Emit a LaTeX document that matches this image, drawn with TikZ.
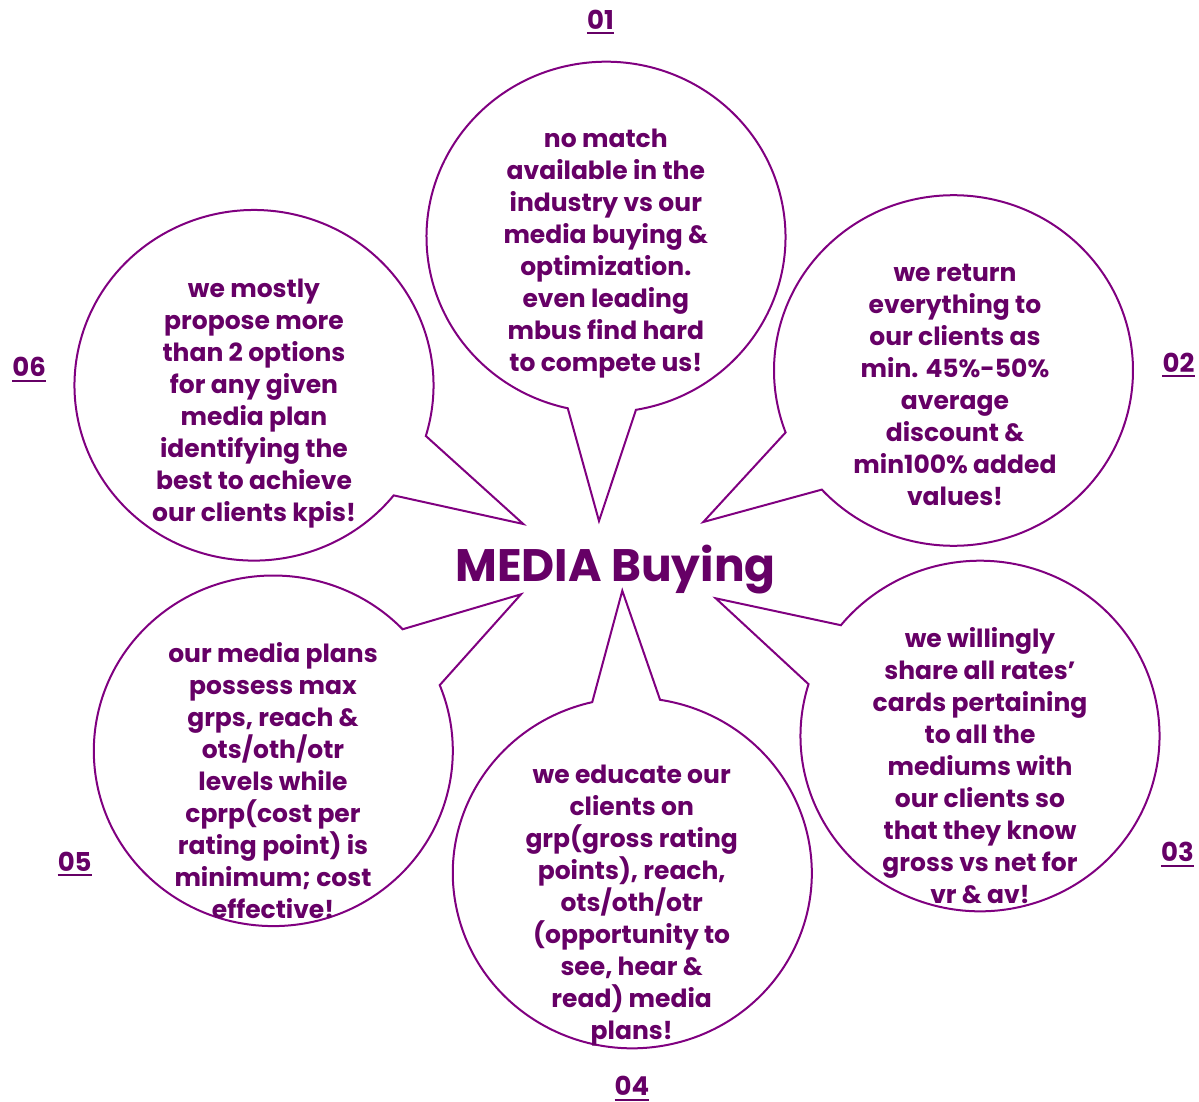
\documentclass[tikz,border=0pt]{standalone}
\usepackage{fontspec}
\setmainfont{Poppins}
\usetikzlibrary{calc}
\definecolor{txt}{RGB}{102,0,102}
\definecolor{lin}{RGB}{128,0,128}
\newcommand\bubblepath[7]{% cx cy tA tipx tipy tB endangle
  \draw[bub] ($(#1,#2)+(#3:179.5 and 175.3)$) -- (#4,#5) -- ($(#1,#2)+(#6:179.5 and 175.3)$)
    arc[start angle=#6, end angle=#7, x radius=179.5, y radius=175.3] -- cycle;}
\begin{document}
\begin{tikzpicture}[x=1pt,y=-1pt,
  bub/.style={draw=lin, line width=2pt, line join=miter, fill=white},
  body/.style={anchor=base, align=center, inner sep=0pt, text=txt, font=\bfseries\fontsize{25}{32}\selectfont},
  lbl/.style={anchor=base, inner sep=0pt, text=txt, font=\bfseries\fontsize{26}{30}\selectfont},
  ul/.style={draw=txt, line width=2pt}]
\useasboundingbox (0,0) rectangle (1199,1102);
% bubbles
\bubblepath{606}{237}{102.3}{599}{521}{80.4}{-257.7}
\bubblepath{953.5}{370.5}{159.3}{703.3}{522}{137.2}{-200.7}
\bubblepath{980}{736}{219.2}{715.7}{598.3}{197.2}{-140.8}
\bubblepath{632.3}{873}{278.9}{622.3}{590.7}{257.1}{-81.1}
\bubblepath{273.3}{750.8}{338.0}{521}{594.3}{316.1}{-22.0}
\bubblepath{254}{385.3}{38.9}{523.3}{524}{16.8}{-321.1}
% texts (anchor base = baseline of the last line)
\node[body] (t1) at (605.8,371.7) {no match\\available in the\\industry vs our\\media buying \&\\optimization.\\even leading\\mbus find hard\\to compete us!};
\node[body] (t2) at (955,505.7) {we return\\everything to\\our clients as\\min. 45\%-50\%\\average\\discount \&\\min100\% added\\values!};
\node[body] (t3) at (980,903.3) {we willingly\\share all rates’\\cards pertaining\\to all the\\mediums with\\our clients so\\that they know\\gross vs net for\\vr \& av!};
\node[body] (t4) at (631.7,1039) {we educate our\\clients on\\grp(gross rating\\points), reach,\\ots/oth/otr\\(opportunity to\\see, hear \&\\read) media\\plans!};
\node[body] (t5) at (273,918.3) {our media plans\\possess max\\grps, reach \&\\ots/oth/otr\\levels while\\cprp(cost per\\rating point) is\\minimum; cost\\effective!};
\node[body] (t6) at (254,521.7) {we mostly\\propose more\\than 2 options\\for any given\\media plan\\identifying the\\best to achieve\\our clients kpis!};
% title
\node[anchor=base, inner sep=0pt, text=txt, font=\bfseries\fontsize{45.5}{50}\selectfont] (title) at (615.5,581.7) {MEDIA Buying};
% labels
\node[lbl] (l1) at (600.5,29.3) {01};
\node[lbl] (l2) at (1178.5,372.3) {02};
\node[lbl] (l3) at (1177.5,861.7) {03};
\node[lbl] (l4) at (632,1095.5) {04};
\node[lbl] (l5) at (74.7,871) {05};
\node[lbl] (l6) at (29.2,376.7) {06};
\foreach \n in {l1,l2,l3,l4,l5,l6}
  \draw[ul] ([yshift=-4pt]\n.base west) -- ([yshift=-4pt]\n.base east);
\end{tikzpicture}
\end{document}
